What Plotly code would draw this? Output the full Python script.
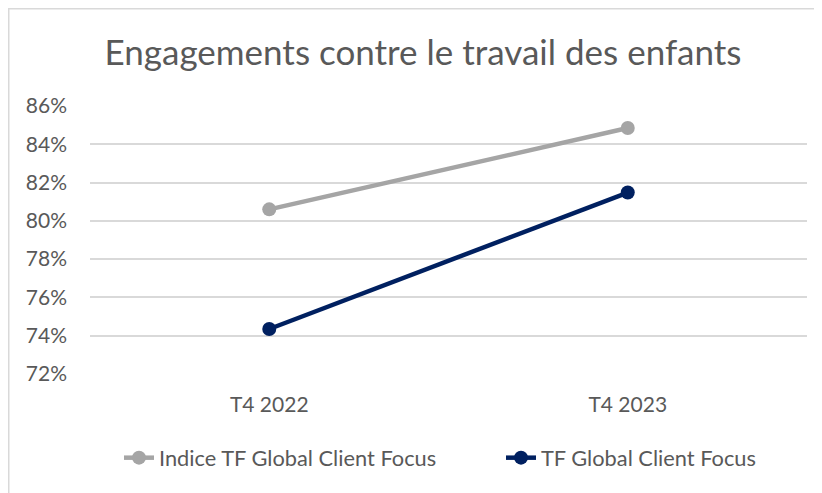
import plotly.graph_objects as go

categories = ["T4 2022", "T4 2023"]
indice_values = [0.806, 0.8485]
tf_values = [0.7435, 0.8148]
series_names = ["Indice TF Global Client Focus", "TF Global Client Focus"]
y_ticks = [0.72, 0.74, 0.76, 0.78, 0.80, 0.82, 0.84, 0.86]

FONT = "Lato"
TXT = "#595959"

fig = go.Figure()
fig.add_trace(go.Scatter(
    x=categories, y=indice_values, name=series_names[0], mode="lines+markers",
    line=dict(color="#a5a5a5", width=4.5), marker=dict(size=14, color="#a5a5a5"),
    legend="legend"))
fig.add_trace(go.Scatter(
    x=categories, y=tf_values, name=series_names[1], mode="lines+markers",
    line=dict(color="#002060", width=4.5), marker=dict(size=14, color="#002060"),
    legend="legend2"))

# page body has an 8px margin, so figure coordinates = window - 8
W, H = 814, 485
L, R, T, B = 82, 15, 98, 119
pw, ph = W - L - R, H - T - B

def px_x(p):
    return (p - L) / pw

def px_y(p):
    return (H - B - p) / ph

leg_common = dict(orientation="h", xanchor="left", yanchor="middle",
                  y=px_y(450), font=dict(size=21.8, color=TXT, family=FONT),
                  bgcolor="rgba(0,0,0,0)")

fig.update_layout(
    width=W, height=H,
    margin=dict(l=L, r=R, t=T, b=B, autoexpand=False),
    paper_bgcolor="white", plot_bgcolor="white",
    font=dict(family=FONT, color=TXT, size=20),
    title=dict(text="Engagements contre le travail des enfants",
               xref="container", x=415 / W, xanchor="center",
               yref="container", y=1 - 45 / H, yanchor="middle",
               font=dict(size=35, color=TXT, family=FONT)),
    showlegend=True,
    legend=dict(x=px_x(111), **leg_common),
    legend2=dict(x=px_x(493), **leg_common),
    xaxis=dict(type="category", range=[-0.5, 1.5], showgrid=False,
               showline=False, zeroline=False, ticks="",
               ticklabelstandoff=16, tickfont=dict(size=21, color=TXT)),
    yaxis=dict(range=[0.72, 0.86], tickvals=y_ticks, tickformat=".0%",
               showgrid=True, gridcolor="#d9d9d9", gridwidth=1.5,
               zeroline=False, showline=False, ticks="",
               ticklabelstandoff=22, tickfont=dict(size=21, color=TXT)),
    shapes=[
        dict(type="line", xref="paper", yref="paper",
             x0=px_x(0), x1=px_x(W + 5), y0=px_y(0.75), y1=px_y(0.75),
             line=dict(color="#d9d9d9", width=1.5)),
        dict(type="line", xref="paper", yref="paper",
             x0=px_x(0.75), x1=px_x(0.75), y0=px_y(0), y1=px_y(H + 5),
             line=dict(color="#d9d9d9", width=1.5)),
    ],
)

fig.write_html("out.html")
